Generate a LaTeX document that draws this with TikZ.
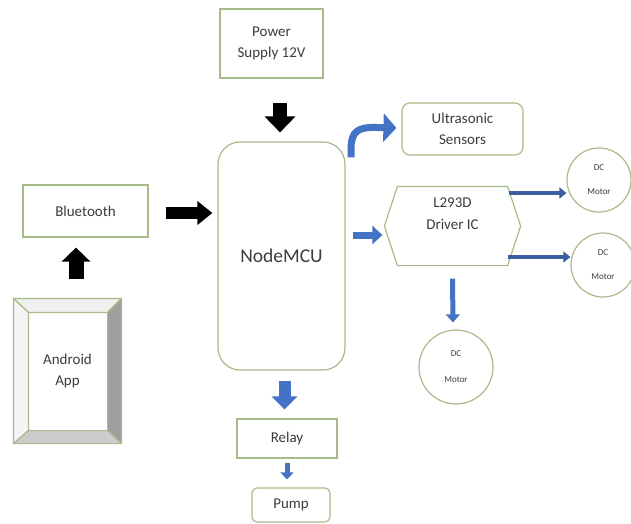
\documentclass[tikz,border=0pt]{standalone}
\usepackage{fontspec}
\setmainfont{Carlito}
\usetikzlibrary{arrows.meta,calc}
\definecolor{bordc}{RGB}{168,188,138}
\definecolor{txtc}{RGB}{60,60,60}
\definecolor{blu}{RGB}{68,114,196}
\definecolor{dblu}{RGB}{58,94,160}
\begin{document}
\begin{tikzpicture}[x=1pt,y=-1pt,
  box/.style={draw=bordc,line width=1.2pt,fill=white,text=txtc,align=center,inner sep=0pt,
    font=\fontsize{15}{20.5}\selectfont},
  motor/.style={circle,draw=bordc,line width=1.2pt,fill=white,text=txtc,align=center,inner sep=0pt,
    minimum size=64pt,font=\fontsize{9}{24}\selectfont},
  blk/.style n args={3}{draw=black,line width=#1,-{Triangle[length=#2,width=#3]}},
  blue/.style n args={3}{draw=blu,line width=#1,-{Triangle[length=#2,width=#3]}},
  dblue/.style n args={3}{draw=dblu,line width=#1,-{Triangle[length=#2,width=#3]}}
]
\useasboundingbox (0,0) rectangle (631,523);

% nodes
\node[box,minimum width=103pt,minimum height=69pt] (ps) at (271.5,43.5) {Power\\Supply 12V};
\node[box,minimum width=125pt,minimum height=52pt] (bt) at (85.5,211) {Bluetooth};
\node[box,rounded corners=22pt,minimum width=127pt,minimum height=228pt,
      font=\fontsize{19.5}{24}\selectfont] (mcu) at (281.5,256) {NodeMCU};
\node[box,rounded corners=8pt,minimum width=121pt,minimum height=52pt] (us) at (462.5,129) {Ultrasonic\\Sensors};
\node[box,draw=none,fill=none,minimum width=135pt,minimum height=78pt] (drv) at (452.5,226) {};
\draw[draw=bordc,line width=1.2pt,fill=white]
  (drv.west) -- ($(drv.north west)+(13,0)$) -- ($(drv.north east)+(-13,0)$) -- (drv.east)
  -- ($(drv.south east)+(-13,0)$) -- ($(drv.south west)+(13,0)$) -- cycle;
\node[text=txtc,align=center,font=\fontsize{15}{22}\selectfont] at ($(drv.center)+(0,-12)$) {L293D\\Driver IC};
\node[motor] (m1) at (599,180) {DC\\Motor};
\node[motor] (m2) at (603,265) {DC\\Motor};
\node[motor,minimum size=74pt,font=\fontsize{9}{26}\selectfont] (m3) at (456,367) {DC\\Motor};
\node[box,minimum width=100pt,minimum height=39pt] (rl) at (287,438.5) {Relay};
\node[box,rounded corners=5pt,minimum width=78pt,minimum height=34pt] (pm) at (291,505) {Pump};

% Android App bevel box
\node[box,minimum width=107pt,minimum height=144pt] (aa) at (67.5,371) {Android\\App};
\coordinate (ainw) at ($(aa.north west)+(15,14)$);
\coordinate (aine) at ($(aa.north east)+(-14,14)$);
\coordinate (aisw) at ($(aa.south west)+(15,-13)$);
\coordinate (aise) at ($(aa.south east)+(-14,-13)$);
\begin{scope}[draw=bordc,line width=1.2pt,line join=round]
  \filldraw[fill=white!94!black] (aa.north west) -- (aa.north east) -- (aine) -- (ainw) -- cycle;
  \filldraw[fill=white!96!black] (aa.north west) -- (ainw) -- (aisw) -- (aa.south west) -- cycle;
  \filldraw[fill=white!62!black] (aa.north east) -- (aa.south east) -- (aise) -- (aine) -- cycle;
  \filldraw[fill=white!80!black] (aa.south west) -- (aisw) -- (aise) -- (aa.south east) -- cycle;
\end{scope}

% black arrows
\draw[blk={14pt}{16pt}{30pt}] ($(ps.south)+(8.5,24)$) -- ($(mcu.north)+(-1.5,-9)$);
\draw[blk={12pt}{15pt}{23pt}] ($(bt.east)+(17,2)$) -- ($(mcu.west |- bt.east)+(-5,2)$);
\draw[blk={15pt}{14pt}{28pt}] ($(aa.north)+(8.5,-19)$) -- ($(bt.south)+(-9.5,10)$);

% blue arrows
\coordinate (cs) at ($(mcu.north east)+(5.5,16)$);
\coordinate (ce) at ($(us.west)+(-5,-1)$);
\draw[blue={7pt}{13pt}{28pt}] (cs) -- ($(cs)+(0,-10)$)
  .. controls ($(cs)+(0,-26)$) and ($(cs)+(8,-30)$) .. ($(cs)+(22,-30)$) -- (ce);
\draw[blue={7pt}{10pt}{18pt}] ($(mcu.east)+(7,-21)$) -- ($(drv.west)+(-2,9)$);
\coordinate (a1) at ($(drv.east)+(-12,-33)$);
\coordinate (a2) at ($(drv.east)+(-13,31)$);
\draw[dblue={4pt}{7pt}{11pt}] (a1) -- (m1.west |- a1);
\draw[dblue={4pt}{7pt}{11pt}] (a2) -- (m2.west |- a2);
\draw[blue={5pt}{8pt}{14pt}] ($(drv.south)+(0,13)$) -- ($(m3.north)+(-3,-7)$);
\draw[blue={12pt}{13pt}{25pt}] ($(mcu.south)+(3,10)$) -- ($(rl.north)+(-2.5,-9)$);
\draw[blue={5pt}{7pt}{13pt}] ($(rl.south)+(0,4)$) -- ($(pm.north)+(-4,-8)$);
\end{tikzpicture}
\end{document}
